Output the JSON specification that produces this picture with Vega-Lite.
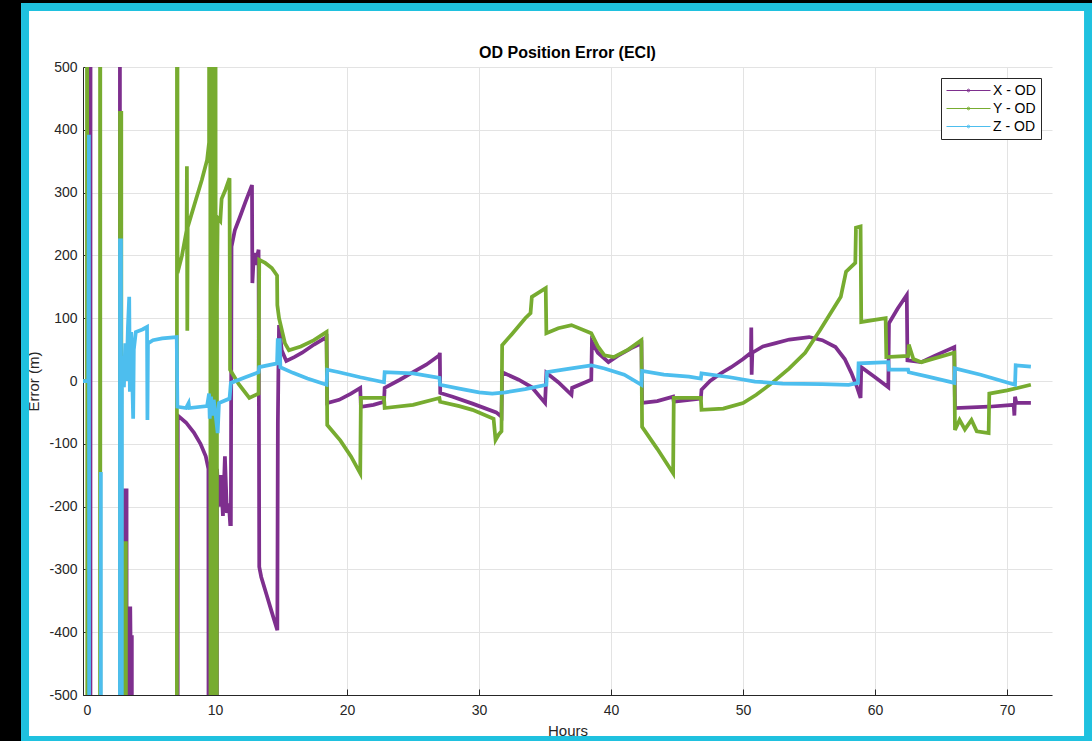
{
  "$schema": "https://vega.github.io/schema/vega-lite/v6.json",
  "width": 969,
  "height": 628,
  "autosize": {"type": "none"},
  "padding": {"left": 83, "top": 67, "right": 40, "bottom": 46},
  "background": "white",
  "config": {"view": {"stroke": null}, "font": "Liberation Sans"},
  "title": {"text": "OD Position Error (ECI)", "frame": "group", "fontSize": 16, "fontWeight": "bold", "color": "#000000", "offset": -61, "font": "Liberation Sans"},
  "layer": [
    {
      "data": {"values": [
        {"s":"X - OD","h":0,"v":0},{"s":"X - OD","h":0.36,"v":0},{"s":"X - OD","h":0.38,"v":3000},{"s":"X - OD","h":0.42,"v":-3000},{"s":"X - OD","h":0.55,"v":-3000},{"s":"X - OD","h":0.57,"v":480},{"s":"X - OD","h":0.58,"v":3000},{"s":"X - OD","h":2.78,"v":3000},{"s":"X - OD","h":2.82,"v":-3000},{"s":"X - OD","h":3.14,"v":-3000},{"s":"X - OD","h":3.15,"v":-174},{"s":"X - OD","h":3.3,"v":-174},{"s":"X - OD","h":3.31,"v":-3000},{"s":"X - OD","h":3.44,"v":-3000},{"s":"X - OD","h":3.45,"v":-362},{"s":"X - OD","h":3.58,"v":-362},{"s":"X - OD","h":3.6,"v":-408},{"s":"X - OD","h":3.7,"v":-408},{"s":"X - OD","h":3.71,"v":-3000},{"s":"X - OD","h":7.12,"v":-3000},{"s":"X - OD","h":7.18,"v":-55},{"s":"X - OD","h":7.8,"v":-66},{"s":"X - OD","h":8.4,"v":-82},{"s":"X - OD","h":8.9,"v":-100},{"s":"X - OD","h":9.3,"v":-120},{"s":"X - OD","h":9.5,"v":-140},{"s":"X - OD","h":9.55,"v":-3000},{"s":"X - OD","h":10.1,"v":-3000},{"s":"X - OD","h":10.15,"v":-140},{"s":"X - OD","h":10.3,"v":-200},{"s":"X - OD","h":10.45,"v":-150},{"s":"X - OD","h":10.6,"v":-215},{"s":"X - OD","h":10.75,"v":-120},{"s":"X - OD","h":10.9,"v":-210},{"s":"X - OD","h":11.05,"v":-195},{"s":"X - OD","h":11.15,"v":-228},{"s":"X - OD","h":11.2,"v":-228},{"s":"X - OD","h":11.25,"v":214},{"s":"X - OD","h":11.5,"v":240},{"s":"X - OD","h":11.9,"v":262},{"s":"X - OD","h":12.3,"v":285},{"s":"X - OD","h":12.8,"v":312},{"s":"X - OD","h":12.83,"v":156},{"s":"X - OD","h":12.95,"v":204},{"s":"X - OD","h":13.05,"v":185},{"s":"X - OD","h":13.3,"v":209},{"s":"X - OD","h":13.35,"v":-296},{"s":"X - OD","h":13.5,"v":-312},{"s":"X - OD","h":13.9,"v":-340},{"s":"X - OD","h":14.3,"v":-368},{"s":"X - OD","h":14.72,"v":-397},{"s":"X - OD","h":14.76,"v":-67},{"s":"X - OD","h":14.8,"v":13},{"s":"X - OD","h":14.85,"v":89},{"s":"X - OD","h":15.05,"v":49},{"s":"X - OD","h":15.4,"v":32},{"s":"X - OD","h":16.0,"v":38},{"s":"X - OD","h":16.6,"v":45},{"s":"X - OD","h":17.5,"v":58},{"s":"X - OD","h":18.45,"v":70},{"s":"X - OD","h":18.5,"v":-35},{"s":"X - OD","h":19.4,"v":-30},{"s":"X - OD","h":20.3,"v":-20},{"s":"X - OD","h":21.0,"v":-11},{"s":"X - OD","h":21.05,"v":-41},{"s":"X - OD","h":22.0,"v":-38},{"s":"X - OD","h":22.8,"v":-33},{"s":"X - OD","h":22.85,"v":-11},{"s":"X - OD","h":24,"v":2},{"s":"X - OD","h":25,"v":14},{"s":"X - OD","h":26,"v":26},{"s":"X - OD","h":27,"v":41},{"s":"X - OD","h":27.03,"v":45},{"s":"X - OD","h":27.06,"v":-19},{"s":"X - OD","h":28,"v":-25},{"s":"X - OD","h":29.5,"v":-36},{"s":"X - OD","h":31.3,"v":-50},{"s":"X - OD","h":31.7,"v":-57},{"s":"X - OD","h":31.75,"v":14},{"s":"X - OD","h":33,"v":2},{"s":"X - OD","h":34,"v":-10},{"s":"X - OD","h":35.0,"v":-35},{"s":"X - OD","h":35.1,"v":13},{"s":"X - OD","h":36,"v":-2},{"s":"X - OD","h":37,"v":-22},{"s":"X - OD","h":37.05,"v":-11},{"s":"X - OD","h":38.5,"v":2},{"s":"X - OD","h":38.55,"v":62},{"s":"X - OD","h":39,"v":45},{"s":"X - OD","h":39.8,"v":30},{"s":"X - OD","h":40.5,"v":40},{"s":"X - OD","h":41.5,"v":52},{"s":"X - OD","h":42.3,"v":60},{"s":"X - OD","h":42.35,"v":-35},{"s":"X - OD","h":43.5,"v":-32},{"s":"X - OD","h":44.7,"v":-25},{"s":"X - OD","h":44.75,"v":-33},{"s":"X - OD","h":46.8,"v":-28},{"s":"X - OD","h":46.85,"v":-14},{"s":"X - OD","h":47.5,"v":0},{"s":"X - OD","h":48.3,"v":12},{"s":"X - OD","h":49.1,"v":22},{"s":"X - OD","h":50,"v":35},{"s":"X - OD","h":50.6,"v":45},{"s":"X - OD","h":50.62,"v":85},{"s":"X - OD","h":50.65,"v":10},{"s":"X - OD","h":50.7,"v":45},{"s":"X - OD","h":51.5,"v":55},{"s":"X - OD","h":52.4,"v":60},{"s":"X - OD","h":53.5,"v":66},{"s":"X - OD","h":55,"v":70},{"s":"X - OD","h":56,"v":65},{"s":"X - OD","h":57,"v":54},{"s":"X - OD","h":57.7,"v":35},{"s":"X - OD","h":58.2,"v":13},{"s":"X - OD","h":58.6,"v":-8},{"s":"X - OD","h":58.9,"v":-27},{"s":"X - OD","h":58.95,"v":22},{"s":"X - OD","h":60,"v":6},{"s":"X - OD","h":61,"v":-10},{"s":"X - OD","h":61.05,"v":92},{"s":"X - OD","h":61.7,"v":115},{"s":"X - OD","h":62.4,"v":137},{"s":"X - OD","h":62.45,"v":33},{"s":"X - OD","h":63.5,"v":30},{"s":"X - OD","h":64.5,"v":40},{"s":"X - OD","h":66,"v":54},{"s":"X - OD","h":66.05,"v":-43},{"s":"X - OD","h":68.6,"v":-41},{"s":"X - OD","h":70.5,"v":-38},{"s":"X - OD","h":70.55,"v":-55},{"s":"X - OD","h":70.6,"v":-25},{"s":"X - OD","h":70.7,"v":-35},{"s":"X - OD","h":71.8,"v":-35},
        {"s":"Y - OD","h":0,"v":0},{"s":"Y - OD","h":0.3,"v":0},{"s":"Y - OD","h":0.31,"v":3000},{"s":"Y - OD","h":0.33,"v":-3000},{"s":"Y - OD","h":1.28,"v":-3000},{"s":"Y - OD","h":1.3,"v":3000},{"s":"Y - OD","h":1.32,"v":-3000},{"s":"Y - OD","h":2.78,"v":-3000},{"s":"Y - OD","h":2.8,"v":427},{"s":"Y - OD","h":2.9,"v":427},{"s":"Y - OD","h":2.92,"v":-3000},{"s":"Y - OD","h":3.04,"v":-3000},{"s":"Y - OD","h":3.05,"v":-258},{"s":"Y - OD","h":3.25,"v":-258},{"s":"Y - OD","h":3.26,"v":-3000},{"s":"Y - OD","h":7.1,"v":-3000},{"s":"Y - OD","h":7.13,"v":3000},{"s":"Y - OD","h":7.16,"v":172},{"s":"Y - OD","h":7.5,"v":200},{"s":"Y - OD","h":7.85,"v":240},{"s":"Y - OD","h":7.87,"v":342},{"s":"Y - OD","h":7.9,"v":80},{"s":"Y - OD","h":7.93,"v":245},{"s":"Y - OD","h":8.5,"v":285},{"s":"Y - OD","h":9.0,"v":320},{"s":"Y - OD","h":9.4,"v":352},{"s":"Y - OD","h":9.55,"v":380},{"s":"Y - OD","h":9.6,"v":3000},{"s":"Y - OD","h":9.7,"v":-3000},{"s":"Y - OD","h":9.8,"v":3000},{"s":"Y - OD","h":9.9,"v":-3000},{"s":"Y - OD","h":10.0,"v":3000},{"s":"Y - OD","h":10.1,"v":-3000},{"s":"Y - OD","h":10.15,"v":140},{"s":"Y - OD","h":10.2,"v":260},{"s":"Y - OD","h":10.4,"v":255},{"s":"Y - OD","h":10.5,"v":290},{"s":"Y - OD","h":10.8,"v":305},{"s":"Y - OD","h":11.1,"v":323},{"s":"Y - OD","h":11.14,"v":18},{"s":"Y - OD","h":11.8,"v":-5},{"s":"Y - OD","h":12.6,"v":-27},{"s":"Y - OD","h":13.3,"v":-20},{"s":"Y - OD","h":13.35,"v":193},{"s":"Y - OD","h":13.8,"v":188},{"s":"Y - OD","h":14.3,"v":180},{"s":"Y - OD","h":14.7,"v":168},{"s":"Y - OD","h":14.72,"v":121},{"s":"Y - OD","h":14.85,"v":100},{"s":"Y - OD","h":15.3,"v":60},{"s":"Y - OD","h":15.6,"v":49},{"s":"Y - OD","h":16.5,"v":55},{"s":"Y - OD","h":17.5,"v":65},{"s":"Y - OD","h":18.45,"v":78},{"s":"Y - OD","h":18.5,"v":-70},{"s":"Y - OD","h":19.5,"v":-95},{"s":"Y - OD","h":20.3,"v":-120},{"s":"Y - OD","h":21.0,"v":-147},{"s":"Y - OD","h":21.05,"v":-27},{"s":"Y - OD","h":22.8,"v":-27},{"s":"Y - OD","h":22.85,"v":-43},{"s":"Y - OD","h":25,"v":-38},{"s":"Y - OD","h":27,"v":-27},{"s":"Y - OD","h":27.05,"v":-33},{"s":"Y - OD","h":28.5,"v":-40},{"s":"Y - OD","h":29.5,"v":-46},{"s":"Y - OD","h":31.1,"v":-60},{"s":"Y - OD","h":31.25,"v":-94},{"s":"Y - OD","h":31.5,"v":-85},{"s":"Y - OD","h":31.7,"v":-80},{"s":"Y - OD","h":31.75,"v":57},{"s":"Y - OD","h":32.5,"v":75},{"s":"Y - OD","h":33.5,"v":100},{"s":"Y - OD","h":33.9,"v":108},{"s":"Y - OD","h":34,"v":134},{"s":"Y - OD","h":35.05,"v":148},{"s":"Y - OD","h":35.1,"v":76},{"s":"Y - OD","h":36,"v":84},{"s":"Y - OD","h":37,"v":89},{"s":"Y - OD","h":38.5,"v":76},{"s":"Y - OD","h":39,"v":55},{"s":"Y - OD","h":39.5,"v":41},{"s":"Y - OD","h":40.2,"v":38},{"s":"Y - OD","h":41.3,"v":50},{"s":"Y - OD","h":42.3,"v":65},{"s":"Y - OD","h":42.35,"v":-73},{"s":"Y - OD","h":43.5,"v":-108},{"s":"Y - OD","h":44.7,"v":-147},{"s":"Y - OD","h":44.75,"v":-27},{"s":"Y - OD","h":46.8,"v":-27},{"s":"Y - OD","h":46.85,"v":-46},{"s":"Y - OD","h":48.5,"v":-44},{"s":"Y - OD","h":50,"v":-35},{"s":"Y - OD","h":51,"v":-22},{"s":"Y - OD","h":52.2,"v":-3},{"s":"Y - OD","h":53.5,"v":20},{"s":"Y - OD","h":54.7,"v":45},{"s":"Y - OD","h":55.8,"v":80},{"s":"Y - OD","h":57.4,"v":134},{"s":"Y - OD","h":57.8,"v":174},{"s":"Y - OD","h":58.5,"v":188},{"s":"Y - OD","h":58.55,"v":244},{"s":"Y - OD","h":58.9,"v":246},{"s":"Y - OD","h":58.95,"v":94},{"s":"Y - OD","h":60.8,"v":100},{"s":"Y - OD","h":60.85,"v":38},{"s":"Y - OD","h":62.5,"v":40},{"s":"Y - OD","h":62.55,"v":58},{"s":"Y - OD","h":62.9,"v":35},{"s":"Y - OD","h":63.5,"v":30},{"s":"Y - OD","h":66,"v":45},{"s":"Y - OD","h":66.05,"v":-78},{"s":"Y - OD","h":66.4,"v":-62},{"s":"Y - OD","h":66.8,"v":-77},{"s":"Y - OD","h":67.3,"v":-62},{"s":"Y - OD","h":67.7,"v":-80},{"s":"Y - OD","h":68.6,"v":-83},{"s":"Y - OD","h":68.65,"v":-20},{"s":"Y - OD","h":70,"v":-15},{"s":"Y - OD","h":71.8,"v":-6},
        {"s":"Z - OD","h":0,"v":0},{"s":"Z - OD","h":0.4,"v":0},{"s":"Z - OD","h":0.45,"v":392},{"s":"Z - OD","h":0.5,"v":-3000},{"s":"Z - OD","h":1.33,"v":-3000},{"s":"Z - OD","h":1.35,"v":-145},{"s":"Z - OD","h":1.38,"v":-3000},{"s":"Z - OD","h":2.78,"v":-3000},{"s":"Z - OD","h":2.8,"v":224},{"s":"Z - OD","h":2.88,"v":224},{"s":"Z - OD","h":2.9,"v":-3000},{"s":"Z - OD","h":2.95,"v":40},{"s":"Z - OD","h":3.1,"v":-10},{"s":"Z - OD","h":3.2,"v":60},{"s":"Z - OD","h":3.3,"v":0},{"s":"Z - OD","h":3.4,"v":84},{"s":"Z - OD","h":3.5,"v":134},{"s":"Z - OD","h":3.55,"v":-17},{"s":"Z - OD","h":3.65,"v":78},{"s":"Z - OD","h":3.8,"v":-60},{"s":"Z - OD","h":3.85,"v":50},{"s":"Z - OD","h":4.0,"v":78},{"s":"Z - OD","h":4.5,"v":82},{"s":"Z - OD","h":4.85,"v":86},{"s":"Z - OD","h":4.88,"v":-62},{"s":"Z - OD","h":4.92,"v":60},{"s":"Z - OD","h":5.3,"v":65},{"s":"Z - OD","h":6,"v":68},{"s":"Z - OD","h":7.1,"v":70},{"s":"Z - OD","h":7.15,"v":-41},{"s":"Z - OD","h":7.8,"v":-43},{"s":"Z - OD","h":8.0,"v":-35},{"s":"Z - OD","h":8.05,"v":-43},{"s":"Z - OD","h":9.4,"v":-40},{"s":"Z - OD","h":9.55,"v":-20},{"s":"Z - OD","h":9.6,"v":-60},{"s":"Z - OD","h":9.7,"v":-25},{"s":"Z - OD","h":9.8,"v":-55},{"s":"Z - OD","h":9.9,"v":-30},{"s":"Z - OD","h":10.0,"v":-45},{"s":"Z - OD","h":10.2,"v":-83},{"s":"Z - OD","h":10.3,"v":-35},{"s":"Z - OD","h":11.1,"v":-28},{"s":"Z - OD","h":11.2,"v":-3},{"s":"Z - OD","h":12.3,"v":6},{"s":"Z - OD","h":13.3,"v":14},{"s":"Z - OD","h":13.35,"v":22},{"s":"Z - OD","h":14.7,"v":28},{"s":"Z - OD","h":14.75,"v":65},{"s":"Z - OD","h":14.9,"v":65},{"s":"Z - OD","h":14.95,"v":22},{"s":"Z - OD","h":15.9,"v":13},{"s":"Z - OD","h":17,"v":4},{"s":"Z - OD","h":18.45,"v":-6},{"s":"Z - OD","h":18.5,"v":18},{"s":"Z - OD","h":19.4,"v":14},{"s":"Z - OD","h":21,"v":6},{"s":"Z - OD","h":22.8,"v":-2},{"s":"Z - OD","h":22.85,"v":14},{"s":"Z - OD","h":25,"v":12},{"s":"Z - OD","h":27,"v":5},{"s":"Z - OD","h":27.05,"v":-6},{"s":"Z - OD","h":28.5,"v":-12},{"s":"Z - OD","h":30,"v":-18},{"s":"Z - OD","h":31,"v":-20},{"s":"Z - OD","h":32,"v":-18},{"s":"Z - OD","h":33.5,"v":-13},{"s":"Z - OD","h":35.1,"v":-6},{"s":"Z - OD","h":35.15,"v":14},{"s":"Z - OD","h":37,"v":20},{"s":"Z - OD","h":38.5,"v":25},{"s":"Z - OD","h":39.5,"v":20},{"s":"Z - OD","h":41,"v":10},{"s":"Z - OD","h":42.3,"v":-6},{"s":"Z - OD","h":42.35,"v":16},{"s":"Z - OD","h":44,"v":10},{"s":"Z - OD","h":45.9,"v":7},{"s":"Z - OD","h":46.8,"v":4},{"s":"Z - OD","h":46.85,"v":12},{"s":"Z - OD","h":49,"v":6},{"s":"Z - OD","h":50.9,"v":-1},{"s":"Z - OD","h":53,"v":-4},{"s":"Z - OD","h":56,"v":-5},{"s":"Z - OD","h":58,"v":-6},{"s":"Z - OD","h":58.7,"v":-3},{"s":"Z - OD","h":58.75,"v":28},{"s":"Z - OD","h":61,"v":30},{"s":"Z - OD","h":61.05,"v":18},{"s":"Z - OD","h":62.5,"v":18},{"s":"Z - OD","h":62.55,"v":14},{"s":"Z - OD","h":64,"v":7},{"s":"Z - OD","h":66,"v":-3},{"s":"Z - OD","h":66.05,"v":20},{"s":"Z - OD","h":68,"v":10},{"s":"Z - OD","h":70.6,"v":-6},{"s":"Z - OD","h":70.65,"v":25},{"s":"Z - OD","h":71.8,"v":23}
      ]},
      "mark": {"type": "line", "clip": true, "strokeWidth": 3.75},
      "encoding": {
        "x": {"field": "h", "type": "quantitative", "scale": {"domain": [0, 73.4], "nice": false, "zero": false},
          "axis": {"title": "Hours", "values": [0,10,20,30,40,50,60,70], "grid": true, "gridColor": "#E3E3E3", "domainColor": "#262626", "tickColor": "#262626", "tickSize": -6, "labelFontSize": 14, "labelColor": "#262626", "labelPadding": 14, "titleFontSize": 15, "titleColor": "#262626", "titleFontWeight": "normal", "titlePadding": 6, "labelFont": "Liberation Sans", "titleFont": "Liberation Sans"}},
        "y": {"field": "v", "type": "quantitative", "scale": {"domain": [-500, 500], "nice": false, "zero": false},
          "axis": {"title": "Error (m)", "values": [-500,-400,-300,-200,-100,0,100,200,300,400,500], "labelExpr": "replace(datum.label, '\u2212', '-')", "grid": true, "gridColor": "#E3E3E3", "domainColor": "#262626", "tickColor": "#262626", "tickSize": -6, "labelFontSize": 14, "labelColor": "#262626", "labelPadding": 12, "titleFontSize": 15, "titleColor": "#262626", "titleFontWeight": "normal", "titlePadding": 7, "labelFont": "Liberation Sans", "titleFont": "Liberation Sans"}},
        "color": {"field": "s", "type": "nominal", "scale": {"domain": ["X - OD", "Y - OD", "Z - OD"], "range": ["#7E2F8E", "#77AC30", "#4DBEEE"]},
          "legend": {"orient": "none", "legendX": 858, "legendY": 11, "title": null, "symbolType": "M-1,0H5.286M2.33,0A0.19,0.19,0,1,1,1.95,0A0.19,0.19,0,1,1,2.33,0", "symbolSize": 196, "symbolStrokeWidth": 1, "labelFontSize": 14, "labelColor": "#000000", "labelFont": "Liberation Sans", "strokeColor": "#262626", "fillColor": "white", "padding": 5, "rowPadding": 3, "labelOffset": 32}}
      }
    },
    {
      "data": {"values": [{}]},
      "mark": {"type": "rect", "color": "#000000"},
      "encoding": {
        "x": {"datum": -12, "type": "quantitative"},
        "x2": {"datum": -4.696},
        "y": {"datum": 606.7, "type": "quantitative"},
        "y2": {"datum": -700}
      }
    },
    {
      "data": {"values": [{}]},
      "mark": {"type": "rect", "color": "#000000"},
      "encoding": {
        "x": {"datum": -12, "type": "quantitative"},
        "x2": {"datum": 100},
        "y": {"datum": 606.7, "type": "quantitative"},
        "y2": {"datum": 601.9}
      }
    },
    {
      "data": {"values": [{}]},
      "mark": {"type": "rect", "fill": "transparent", "stroke": "#1FC1DF", "strokeWidth": 8},
      "encoding": {
        "x": {"datum": -4.39, "type": "quantitative"},
        "x2": {"datum": 76.13},
        "y": {"datum": 595.5, "type": "quantitative"},
        "y2": {"datum": -571.7}
      }
    }
  ]
}
